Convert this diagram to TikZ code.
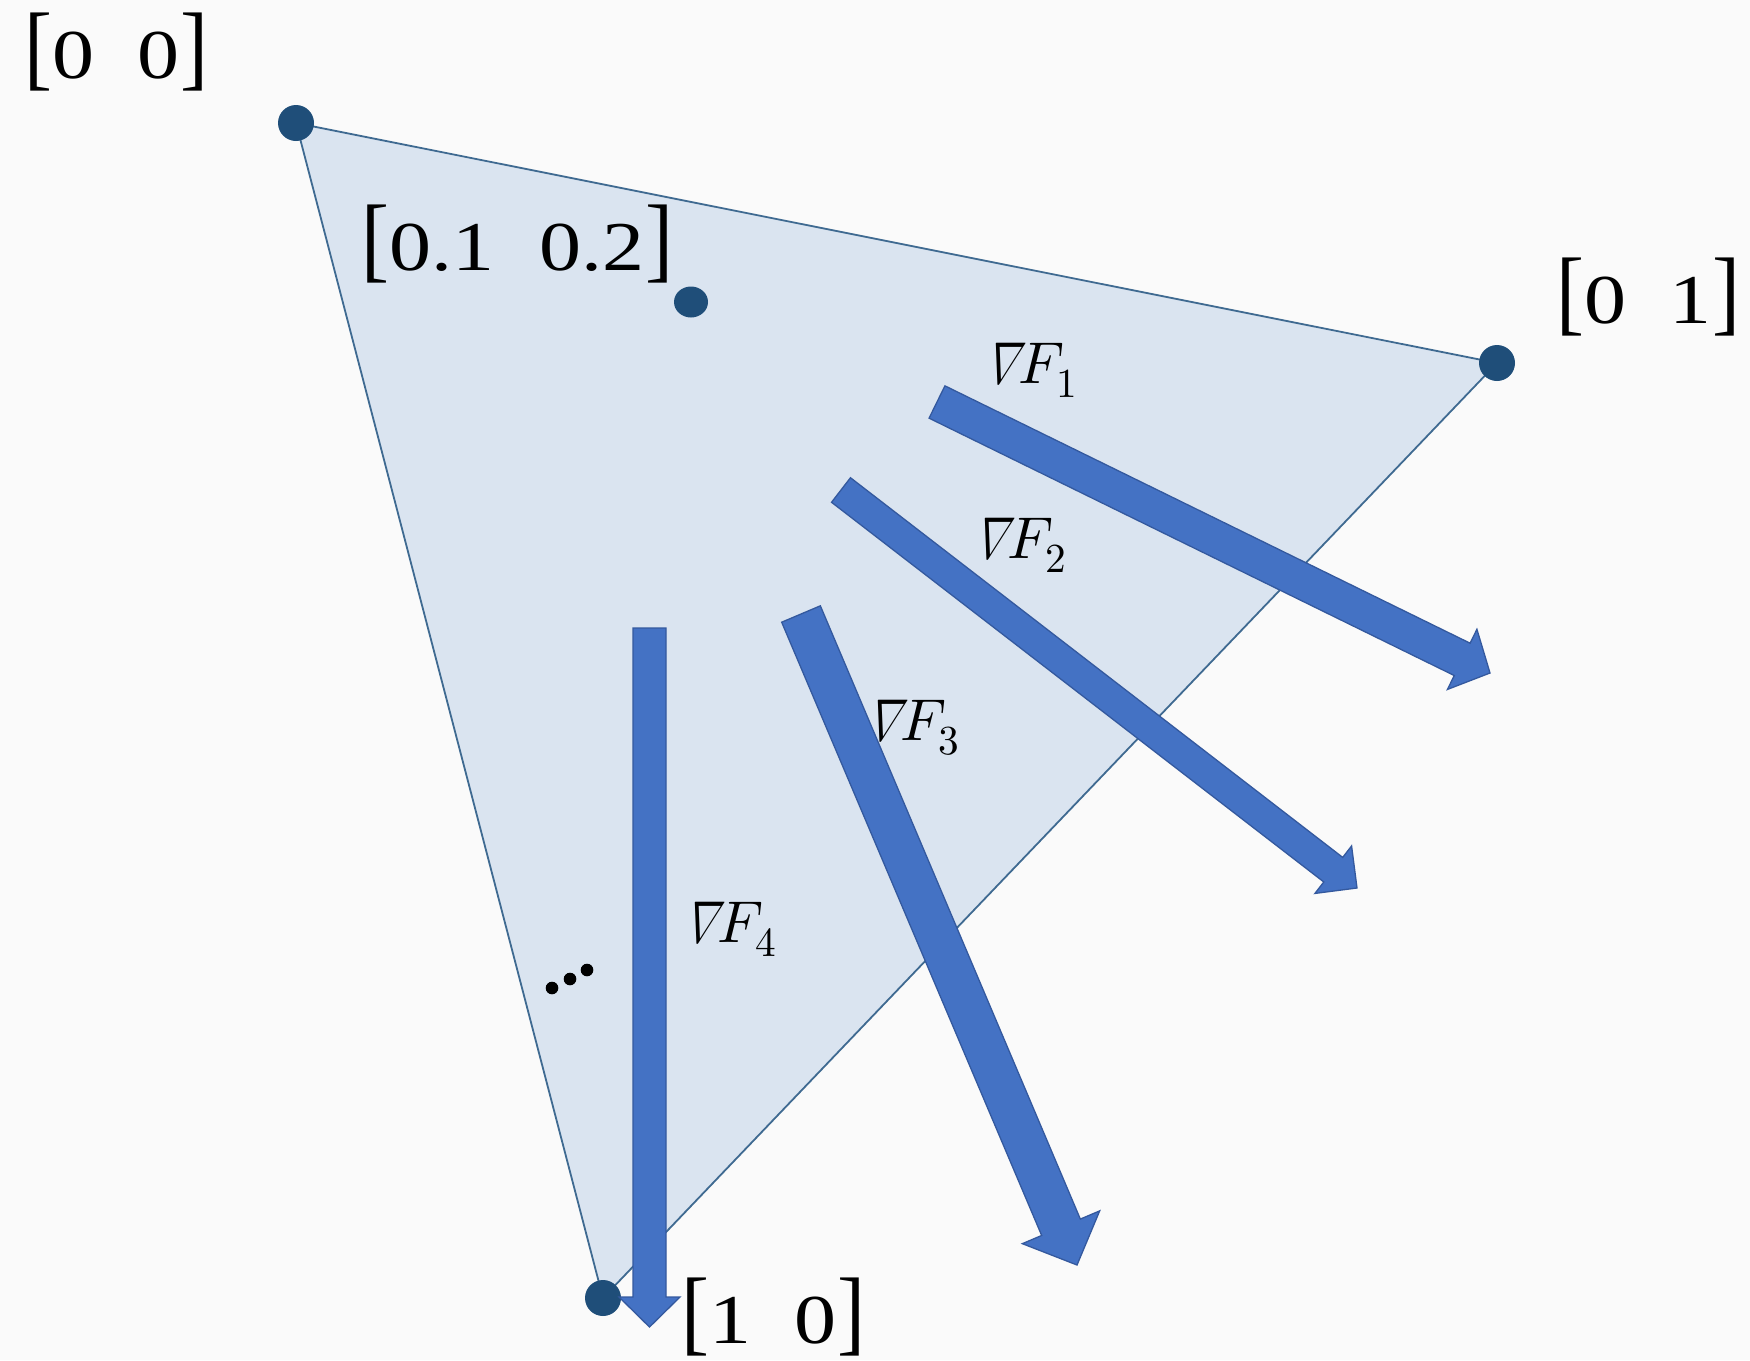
\documentclass[tikz,border=0pt]{standalone}
\usepackage{graphicx}
\usepackage{fontspec}
\usepackage{unicode-math}
\setmainfont{Liberation Serif}[FakeStretch=1.2]
\setmathfont{Latin Modern Math}
\usetikzlibrary{calc,shapes.geometric}
\definecolor{bgc}{HTML}{FAFAFA}
\definecolor{trifill}{HTML}{DAE4F0}
\definecolor{triedge}{HTML}{3F6A91}
\definecolor{dotc}{HTML}{1F4E79}
\definecolor{arrfill}{HTML}{4472C4}
\definecolor{arredge}{HTML}{34599E}
\newcommand\lbr{\scalebox{1}[1.35]{[}}
\newcommand\rbr{\scalebox{1}[1.35]{]}}
% block arrow: #1 tail, #2 tip, #3 shaft half width, #4 head half width, #5 head length
\newcommand\blockarr[5]{%
  \coordinate (#1b) at ($(#2)!#5!(#1)$);
  \filldraw[arrstyle]
    ($(#1)!#3!90:(#2)$) -- ($(#1b)!#3!90:(#2)$) -- ($(#1b)!#4!90:(#2)$) -- (#2)
    -- ($(#1b)!#4!-90:(#2)$) -- ($(#1b)!#3!-90:(#2)$) -- ($(#1)!#3!-90:(#2)$) -- cycle;}
\begin{document}
\begin{tikzpicture}[x=1pt,y=-1pt,
  tristyle/.style={fill=trifill, draw=triedge, line width=1.8pt, line join=miter},
  vdot/.style={circle, fill=dotc, inner sep=0, minimum size=36pt},
  arrstyle/.style={fill=arrfill, draw=arredge, line width=1.3pt, line join=miter},
  bracketlbl/.style={inner sep=0, anchor=base, font=\fontsize{70}{72}\selectfont, text=black},
  nablalbl/.style={inner sep=0, anchor=base west, xslant=0.3, xscale=0.68, transform shape,
                   font=\fontsize{59}{60}\selectfont, text=black},
  gradlbl/.style={inner sep=0, anchor=base west, font=\fontsize{59}{60}\selectfont, text=black}]
\fill[bgc] (0,0) rectangle (1750,1360);
\useasboundingbox (0,0) rectangle (1750,1360);
% vertices
\coordinate (A) at (296,123);
\coordinate (B) at (1497,363);
\coordinate (C) at (603,1298);
\filldraw[tristyle] (A) -- (B) -- (C) -- cycle;
\node[vdot] (dA) at (A) {};
\node[vdot] (dB) at (B) {};
\node[vdot] (dC) at (C) {};
\node[ellipse, fill=dotc, inner sep=0, minimum width=34pt, minimum height=31pt] (dD) at (691,302) {};
% ellipsis
\fill[black] (552,988) circle (6.3) (570,979) circle (6.3) (587,970) circle (6.3);
% arrows
\coordinate (t1) at (937,402);  \coordinate (p1) at (1490,673);
\coordinate (t2) at (841,490);  \coordinate (p2) at (1357,888);
\coordinate (t3) at (801,614);  \coordinate (p3) at (1077,1265);
\coordinate (t4) at (649.5,628); \coordinate (p4) at (649.5,1327);
\blockarr{t1}{p1}{18pt}{33.5pt}{31pt}
\blockarr{t2}{p2}{15.5pt}{30pt}{30pt}
\blockarr{t3}{p3}{21pt}{42pt}{41pt}
\blockarr{t4}{p4}{16.5pt}{30.5pt}{30pt}
% labels
\node[bracketlbl] (l00) at (116,78) {\lbr 0\hspace{44pt}0\rbr};
\node[bracketlbl] (l12) at (517,270) {\lbr 0.1\hspace{46pt}0.2\rbr};
\node[bracketlbl] (l01) at (1648,323) {\lbr 0\hspace{44pt}1\rbr};
\node[bracketlbl] (l10) at (773,1343) {\lbr 1\hspace{44pt}0\rbr};
\node[nablalbl] (n1) at (982,383) {$\nabla$};
\node[gradlbl] (g1) at ([xshift=3pt]n1.base east) {$F_1$};
\node[nablalbl] (n2) at (971,558) {$\nabla$};
\node[gradlbl] (g2) at ([xshift=3pt]n2.base east) {$F_2$};
\node[nablalbl] (n3) at (864,740) {$\nabla$};
\node[gradlbl] (g3) at ([xshift=3pt]n3.base east) {$F_3$};
\node[nablalbl] (n4) at (681,942) {$\nabla$};
\node[gradlbl] (g4) at ([xshift=3pt]n4.base east) {$F_4$};
\end{tikzpicture}
\end{document}
